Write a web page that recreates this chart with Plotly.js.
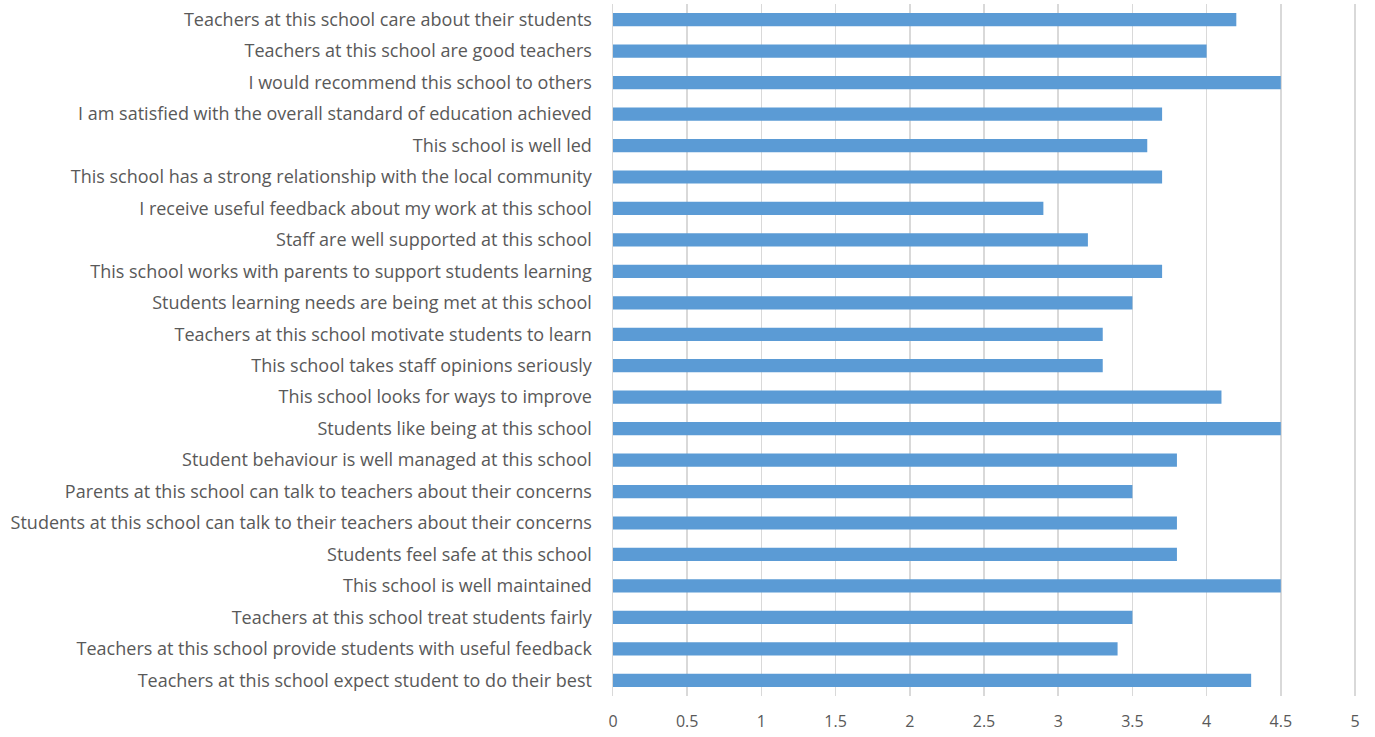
<!DOCTYPE html>
<html>
<head>
<meta charset="utf-8">
<script src="https://cdn.plot.ly/plotly-3.0.1.min.js"></script>
<style>html,body{margin:0;padding:0;background:#fff;}#chart{width:1375px;height:737px;}</style>
</head>
<body>
<div id="chart"></div>
<script>
const categories = [
  "Teachers at this school care about their students",
  "Teachers at this school are good teachers",
  "I would recommend this school to others",
  "I am satisfied with the overall standard of education achieved",
  "This school is well led",
  "This school has a strong relationship with the local community",
  "I receive useful feedback about my work at this school",
  "Staff are well supported at this school",
  "This school works with parents to support students learning",
  "Students learning needs are being met at this school",
  "Teachers at this school motivate students to learn",
  "This school takes staff opinions seriously",
  "This school looks for ways to improve",
  "Students like being at this school",
  "Student behaviour is well managed at this school",
  "Parents at this school can talk to teachers about their concerns",
  "Students at this school can talk to their teachers about their concerns",
  "Students feel safe at this school",
  "This school is well maintained",
  "Teachers at this school treat students fairly",
  "Teachers at this school provide students with useful feedback",
  "Teachers at this school expect student to do their best"
];
const values = [4.2, 4.0, 4.5, 3.7, 3.6, 3.7, 2.9, 3.2, 3.7, 3.5, 3.3, 3.3, 4.1, 4.5, 3.8, 3.5, 3.8, 3.8, 4.5, 3.5, 3.4, 4.3];
const tickValues = [0, 0.5, 1, 1.5, 2, 2.5, 3, 3.5, 4, 4.5, 5];
const tickLabels = ["0", "0.5", "1", "1.5", "2", "2.5", "3", "3.5", "4", "4.5", "5"];

const trace = {
  type: "bar",
  orientation: "h",
  x: values,
  y: categories,
  marker: {color: "#5b9bd5", line: {color: "#5b9bd5", width: 0}},
  hoverinfo: "x+y"
};

const layout = {
  width: 1375, height: 737,
  margin: {l: 613, r: 17, t: 4, b: 41},
  paper_bgcolor: "#ffffff",
  plot_bgcolor: "#ffffff",
  bargap: 0.58,
  showlegend: false,
  font: {family: "Open Sans, Noto Sans, sans-serif", size: 18, color: "#595959"},
  xaxis: {
    range: [0, 5.02],
    tickvals: tickValues,
    ticktext: tickLabels,
    showgrid: true,
    gridcolor: "#d9d9d9",
    gridwidth: 1.5,
    zeroline: false,
    showline: false,
    ticks: "",
    ticklen: 0,
    ticklabelstandoff: 14,
    tickfont: {size: 16, color: "#595959"},
    fixedrange: true
  },
  yaxis: {
    type: "category",
    autorange: "reversed",
    showgrid: false,
    zeroline: false,
    showline: true,
    linecolor: "#d9d9d9",
    linewidth: 1.5,
    ticks: "",
    ticklabelstandoff: 16,
    tickfont: {size: 18, color: "#595959"},
    fixedrange: true
  }
};

Plotly.newPlot("chart", [trace], layout, {displayModeBar: false, staticPlot: true});
</script>
</body>
</html>
